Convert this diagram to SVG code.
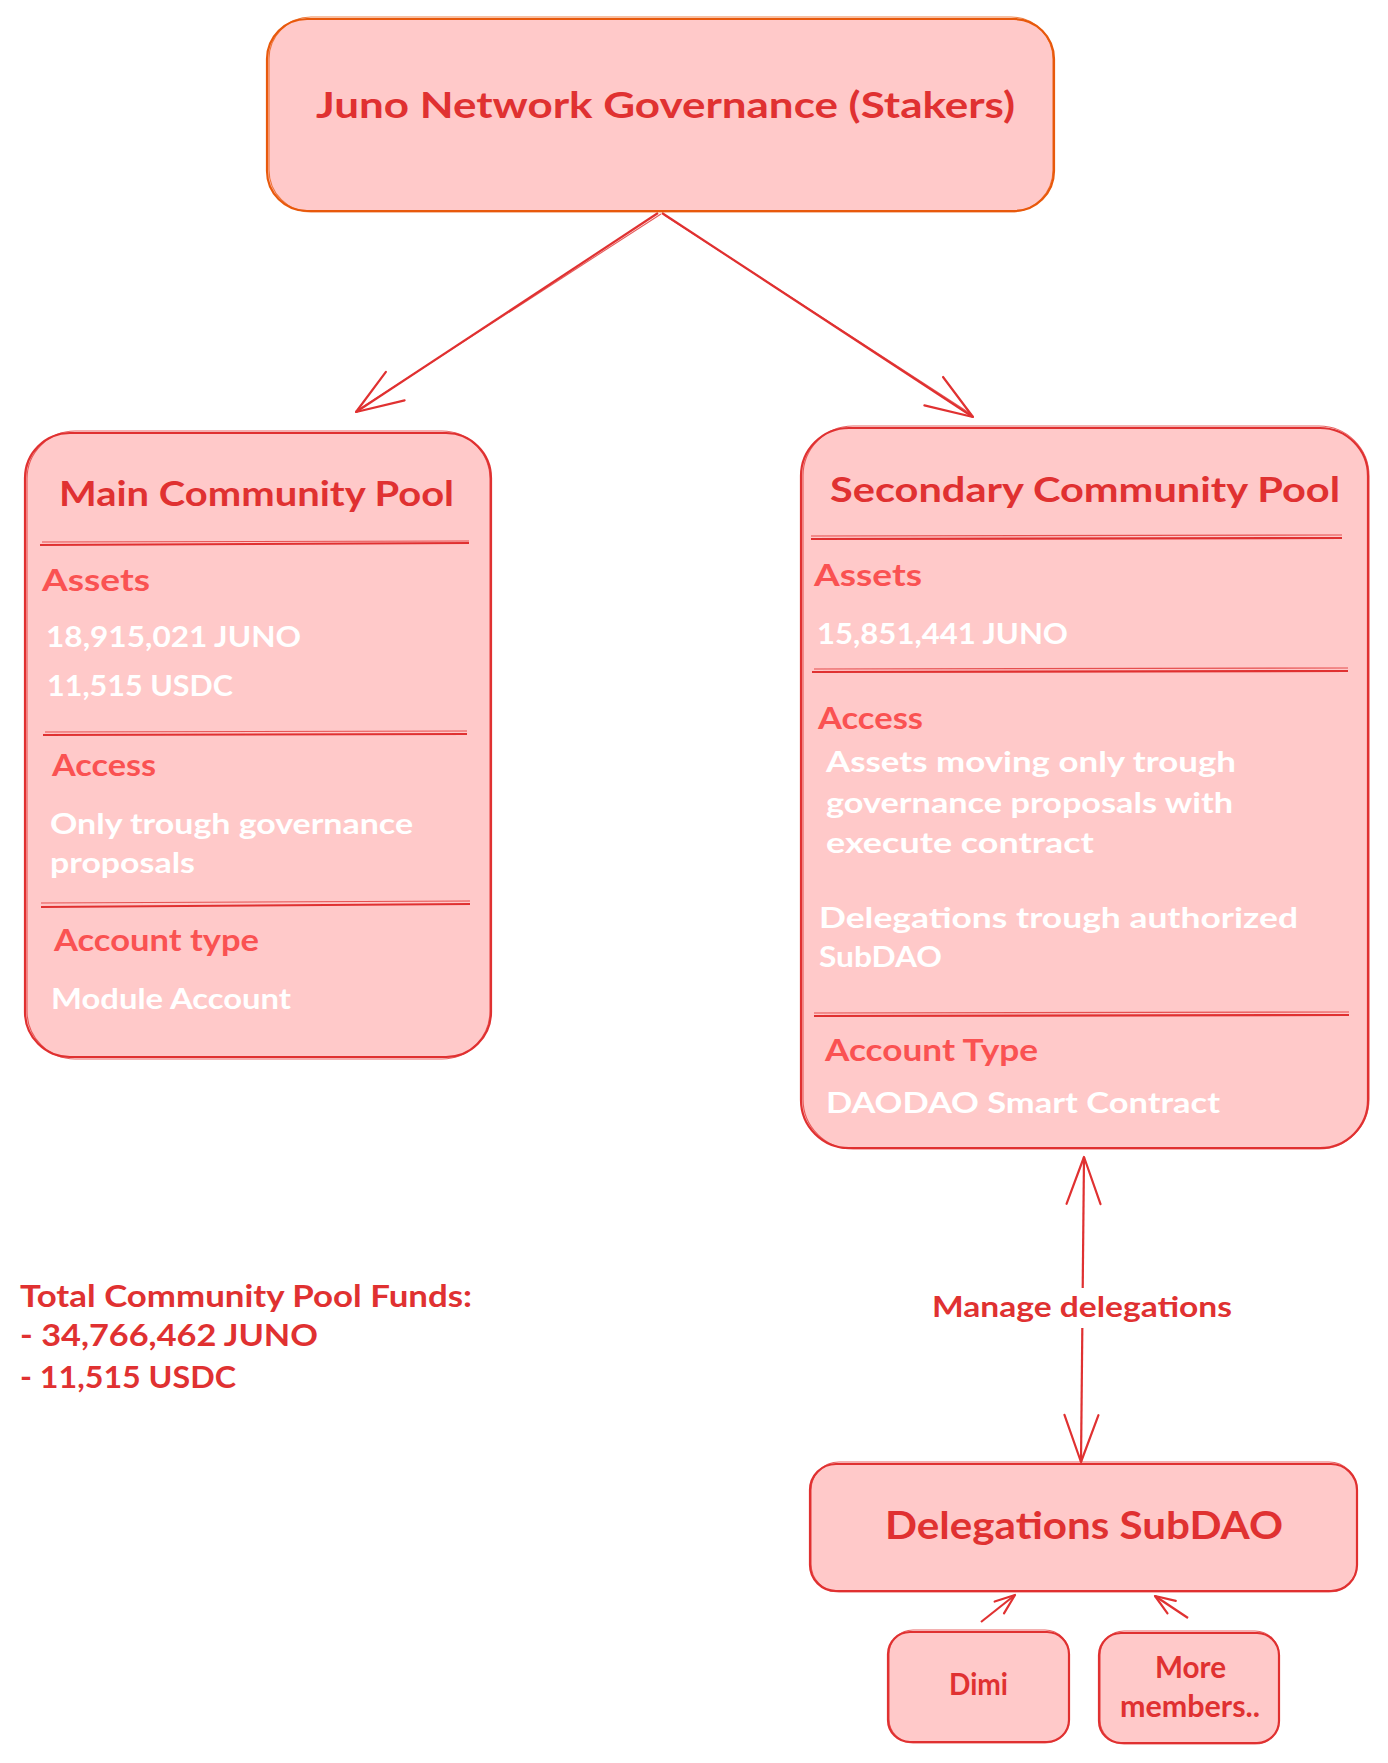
<svg xmlns="http://www.w3.org/2000/svg" width="1388" height="1763" viewBox="0 0 1388 1763">
<style>
.box{fill:#ffc9c9;stroke:#e03131;stroke-width:2.2}
.sk{fill:none;stroke:#e03131;stroke-width:1.1;opacity:.75}
.topbox{fill:#ffc9c9;stroke:#e8590c;stroke-width:2.2}
.skt{fill:none;stroke:#e8590c;stroke-width:1.1;opacity:.75}
.div{stroke:#e03131;stroke-width:2.2;fill:none}
.div2{stroke:#e03131;stroke-width:1.1;fill:none;opacity:.8}
text{font-family:Lato,"Noto Sans",sans-serif;font-weight:bold}
.title{fill:#e03131;font-size:34px}
.head{fill:#fa5252;font-size:30px}
.body{fill:#ffffff;font-size:29px}
.lbl{fill:#e03131;font-size:30px}
.con{stroke:#e03131;stroke-width:2.2;fill:none}
.ah{stroke:#e03131;stroke-width:2.2;fill:none;stroke-linecap:round;stroke-linejoin:round}
</style>
<defs>
<marker id="arrow" viewBox="0 -20 52 40" refX="49" refY="0" markerWidth="52" markerHeight="40" markerUnits="userSpaceOnUse" orient="auto-start-reverse">
<path class="ah" d="M2,-17 L49,0 L2,17"/>
</marker>
<marker id="arrowSm" viewBox="0 -10 24 20" refX="22" refY="0" markerWidth="24" markerHeight="20" markerUnits="userSpaceOnUse" orient="auto">
<path class="ah" d="M2,-7.5 L22,0 L2,7.5"/>
</marker>
<mask id="gapMask" maskUnits="userSpaceOnUse" x="0" y="0" width="1388" height="1763">
<rect x="0" y="0" width="1388" height="1763" fill="#fff"/>
<rect x="1060" y="1288" width="50" height="40" fill="#000"/>
</mask>
</defs>

<g id="connectors">
<path id="c-gov-main" class="con" d="M658,213 L356,412" marker-end="url(#arrow)"/>
<path class="div2" d="M661,214 L358,410"/>
<path id="c-gov-secondary" class="con" d="M662,213 L973,417" marker-end="url(#arrow)"/>
<path class="div2" d="M664,215 L971,414"/>
<path id="c-manage" class="con" d="M1081,1462 L1084,1157" marker-start="url(#arrow)" marker-end="url(#arrow)" mask="url(#gapMask)"/>
<path id="c-dimi" class="con" d="M981,1622 L1015,1595" marker-end="url(#arrowSm)"/>
<path id="c-more" class="con" d="M1188,1618 L1155,1596" marker-end="url(#arrowSm)"/>
</g>

<g id="governance">
<rect class="topbox" x="267" y="19" width="787" height="192" rx="40"/>
<rect class="skt" x="269" y="17" width="784" height="195" rx="42"/>
<text class="title" x="316" y="118" style="font-size:36px" textLength="699" lengthAdjust="spacingAndGlyphs">Juno Network Governance (Stakers)</text>
</g>

<g id="main-pool">
<rect class="box" x="25" y="433" width="466" height="624" rx="45"/>
<rect class="sk" x="27" y="431" width="463" height="628" rx="48"/>
<text class="title" x="59" y="506" textLength="395" lengthAdjust="spacingAndGlyphs">Main Community Pool</text>
<path class="div" d="M40,545 L469,543"/>
<path class="div2" d="M42,542 L469,541"/>
<text class="head" x="42" y="591" textLength="108" lengthAdjust="spacingAndGlyphs">Assets</text>
<text class="body" x="46" y="647" textLength="255" lengthAdjust="spacingAndGlyphs">18,915,021 JUNO</text>
<text class="body" x="47" y="696" textLength="186" lengthAdjust="spacingAndGlyphs">11,515 USDC</text>
<path class="div" d="M43,735 L467,734"/>
<path class="div2" d="M45,732 L467,731"/>
<text class="head" x="52" y="776" textLength="104" lengthAdjust="spacingAndGlyphs">Access</text>
<text class="body" x="50" y="834" textLength="363" lengthAdjust="spacingAndGlyphs">Only trough governance</text>
<text class="body" x="50" y="873" textLength="145" lengthAdjust="spacingAndGlyphs">proposals</text>
<path class="div" d="M41,907 L470,904"/>
<path class="div2" d="M41,903 L470,901"/>
<text class="head" x="54" y="951" textLength="205" lengthAdjust="spacingAndGlyphs">Account type</text>
<text class="body" x="51" y="1009" textLength="240" lengthAdjust="spacingAndGlyphs">Module Account</text>
</g>

<g id="secondary-pool">
<rect class="box" x="801" y="428" width="567" height="720" rx="48"/>
<rect class="sk" x="803" y="426" width="566" height="723" rx="50"/>
<text class="title" x="830" y="502" textLength="510" lengthAdjust="spacingAndGlyphs">Secondary Community Pool</text>
<path class="div" d="M811,539 L1342,538"/>
<path class="div2" d="M811,536 L1342,535"/>
<text class="head" x="814" y="586" textLength="108" lengthAdjust="spacingAndGlyphs">Assets</text>
<text class="body" x="817" y="644" textLength="251" lengthAdjust="spacingAndGlyphs">15,851,441 JUNO</text>
<path class="div" d="M812,672 L1348,671"/>
<path class="div2" d="M814,669 L1348,668"/>
<text class="head" x="818" y="729" textLength="105" lengthAdjust="spacingAndGlyphs">Access</text>
<text class="body" x="826" y="772" textLength="410" lengthAdjust="spacingAndGlyphs">Assets moving only trough</text>
<text class="body" x="826" y="813" textLength="407" lengthAdjust="spacingAndGlyphs">governance proposals with</text>
<text class="body" x="826" y="853" textLength="268" lengthAdjust="spacingAndGlyphs">execute contract</text>
<text class="body" x="819" y="928" textLength="479" lengthAdjust="spacingAndGlyphs">Delegations trough authorized</text>
<text class="body" x="819" y="967" textLength="123" lengthAdjust="spacingAndGlyphs">SubDAO</text>
<path class="div" d="M814,1016 L1349,1015"/>
<path class="div2" d="M814,1013 L1349,1012"/>
<text class="head" x="825" y="1061" textLength="213" lengthAdjust="spacingAndGlyphs">Account Type</text>
<text class="body" x="826" y="1113" textLength="394" lengthAdjust="spacingAndGlyphs">DAODAO Smart Contract</text>
</g>

<g id="totals">
<text class="lbl" x="20" y="1307" textLength="452" lengthAdjust="spacingAndGlyphs">Total Community Pool Funds:</text>
<text class="lbl" x="20" y="1346" textLength="298" lengthAdjust="spacingAndGlyphs">- 34,766,462 JUNO</text>
<text class="lbl" x="20" y="1388" textLength="216" lengthAdjust="spacingAndGlyphs">- 11,515 USDC</text>
</g>

<g id="manage-label">
<text class="lbl" x="932" y="1317" style="font-size:28px" textLength="300" lengthAdjust="spacingAndGlyphs">Manage delegations</text>
</g>

<g id="subdao">
<rect class="box" x="810" y="1464" width="547" height="127" rx="26"/>
<rect class="sk" x="811" y="1462" width="546" height="130" rx="28"/>
<text class="lbl" x="885" y="1539" style="font-size:38px" textLength="398" lengthAdjust="spacingAndGlyphs">Delegations SubDAO</text>
</g>

<g id="dimi">
<rect class="box" x="888" y="1632" width="181" height="110" rx="22"/>
<rect class="sk" x="889" y="1630" width="180" height="113" rx="24"/>
<text class="lbl" x="949" y="1695" textLength="59" lengthAdjust="spacingAndGlyphs">Dimi</text>
</g>

<g id="more-members">
<rect class="box" x="1099" y="1633" width="180" height="110" rx="22"/>
<rect class="sk" x="1100" y="1631" width="179" height="113" rx="24"/>
<text class="lbl" x="1155" y="1678" textLength="71" lengthAdjust="spacingAndGlyphs">More</text>
<text class="lbl" x="1120" y="1717" textLength="140" lengthAdjust="spacingAndGlyphs">members..</text>
</g>
</svg>
